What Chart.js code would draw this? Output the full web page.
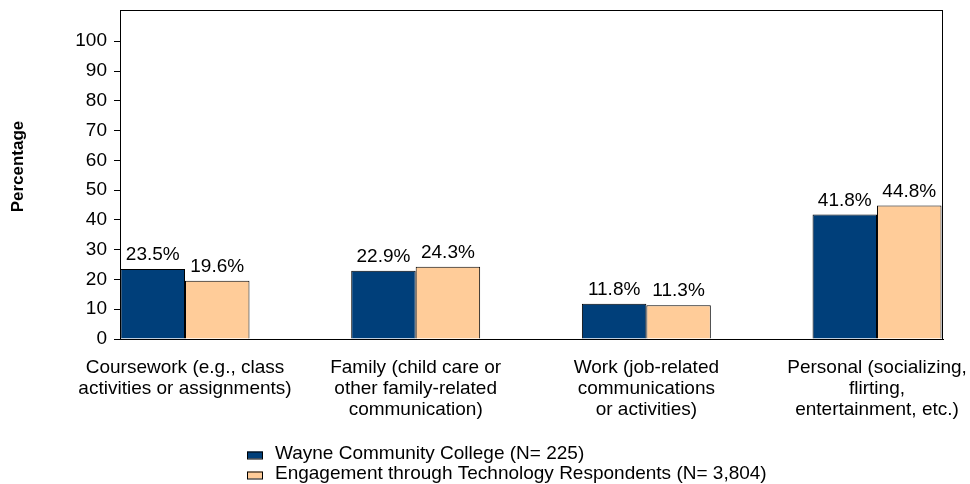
<!DOCTYPE html>
<html lang="en">
<head>
    <meta charset="UTF-8">
    <title>Technology use by purpose</title>
    <script src="https://cdn.jsdelivr.net/npm/chart.js"></script>
    <style>
        body { margin: 0; background: #fff; }
    </style>
</head>
<body>
    <canvas id="purposeChart" width="970" height="484"></canvas>

    <script>
        // Category labels (one array of lines per category)
        const categories = [
            ['Coursework (e.g., class', 'activities or assignments)'],
            ['Family (child care or', 'other family-related', 'communication)'],
            ['Work (job-related', 'communications', 'or activities)'],
            ['Personal (socializing,', 'flirting,', 'entertainment, etc.)']
        ];
        const seriesNames = [
            'Wayne Community College (N= 225)',
            'Engagement through Technology Respondents (N= 3,804)'
        ];
        const wayneValues = [23.5, 22.9, 11.8, 41.8];
        const ettValues = [19.6, 24.3, 11.3, 44.8];
        const yTicks = [0, 10, 20, 30, 40, 50, 60, 70, 80, 90, 100];
        const yTitle = 'Percentage';

        const FONT = '"Liberation Sans", Arial, sans-serif';

        // box round the plot area
        const framePlugin = {
            id: 'frame',
            beforeDatasetsDraw(chart) {
                const a = chart.chartArea;
                const ctx = chart.ctx;
                ctx.save();
                ctx.strokeStyle = '#000';
                ctx.lineWidth = 1;
                ctx.strokeRect(a.left + 0.5, a.top + 0.5, a.right - a.left - 1, a.bottom - a.top);
                ctx.restore();
            }
        };

        // y axis title, sits a bit above the middle of the plot like the original
        const yTitlePlugin = {
            id: 'yTitle',
            afterDraw(chart) {
                const ctx = chart.ctx;
                const a = chart.chartArea;
                ctx.save();
                ctx.translate(18.5, (a.top + a.bottom) / 2 - 8);
                ctx.rotate(-Math.PI / 2);
                ctx.font = 'bold 17px ' + FONT;
                ctx.fillStyle = '#000';
                ctx.textAlign = 'center';
                ctx.textBaseline = 'middle';
                ctx.fillText(yTitle, 0, 0);
                ctx.restore();
            }
        };

        // percentage labels above the bars
        const valueLabels = {
            id: 'valueLabels',
            afterDatasetsDraw(chart) {
                const ctx = chart.ctx;
                ctx.save();
                ctx.font = '19px ' + FONT;
                ctx.fillStyle = '#000';
                ctx.textAlign = 'center';
                ctx.textBaseline = 'alphabetic';
                chart.data.datasets.forEach((ds, i) => {
                    chart.getDatasetMeta(i).data.forEach((bar, j) => {
                        ctx.fillText(ds.data[j].y.toFixed(1) + '%', bar.x, bar.y - 9);
                    });
                });
                ctx.restore();
            }
        };

        // legend stacked in two rows under the chart
        const stackedLegend = {
            id: 'stackedLegend',
            afterDraw(chart) {
                const ctx = chart.ctx;
                const x = chart.chartArea.left + 127;
                ctx.save();
                ctx.font = '19px ' + FONT;
                ctx.textBaseline = 'alphabetic';
                ctx.textAlign = 'left';
                chart.data.datasets.forEach((ds, i) => {
                    const base = chart.chartArea.bottom + 119.5 + i * 20;
                    ctx.fillStyle = ds.backgroundColor;
                    ctx.fillRect(x, base - 7, 16, 7);
                    ctx.strokeStyle = '#000';
                    ctx.lineWidth = 1;
                    ctx.strokeRect(x + 0.5, base - 6.5, 15, 7);
                    ctx.fillStyle = '#000';
                    ctx.fillText(ds.label, x + 28, base);
                });
                ctx.restore();
            }
        };

        const toPoints = (vals) => vals.map((v, i) => ({ x: i, y: v }));

        new Chart(document.getElementById('purposeChart'), {
            type: 'bar',
            data: {
                datasets: [
                    {
                        label: seriesNames[0],
                        data: toPoints(wayneValues),
                        backgroundColor: '#003f7a',
                        borderColor: '#000',
                        borderWidth: 1,
                        categoryPercentage: 0.559,
                        barPercentage: 1
                    },
                    {
                        label: seriesNames[1],
                        data: toPoints(ettValues),
                        backgroundColor: '#ffcc99',
                        borderColor: '#000',
                        borderWidth: 1,
                        categoryPercentage: 0.559,
                        barPercentage: 1
                    }
                ]
            },
            options: {
                responsive: false,
                animation: false,
                layout: { padding: { top: 10, right: 27, bottom: 50, left: 0 } },
                plugins: {
                    legend: { display: false },
                    tooltip: { enabled: false }
                },
                scales: {
                    x: {
                        type: 'linear',
                        offset: false,
                        min: -0.2818,
                        max: 3.286,
                        afterFit: (s) => {
                            s.height = 95;
                            s.paddingLeft = 0;
                            s.paddingRight = 0;
                        },
                        afterBuildTicks: (s) => {
                            s.ticks = categories.map((c, i) => ({ value: i }));
                        },
                        grid: { display: false, drawTicks: false, offset: false },
                        border: { display: true, color: '#000', width: 1 },
                        ticks: {
                            color: '#000',
                            font: { family: FONT, size: 19, lineHeight: 1.08 },
                            padding: 19,
                            maxRotation: 0,
                            autoSkip: false,
                            callback: (v) => categories[v] || ''
                        }
                    },
                    y: {
                        min: 0,
                        max: 110.5,
                        afterFit: (s) => {
                            s.width = 120;
                            s.paddingTop = 0;
                            s.paddingBottom = 0;
                        },
                        afterBuildTicks: (s) => {
                            s.ticks = yTicks.map(v => ({ value: v }));
                        },
                        grid: {
                            drawOnChartArea: false,
                            color: '#000',
                            tickLength: 6
                        },
                        border: { display: true, color: '#000', width: 1 },
                        ticks: {
                            color: '#000',
                            font: { family: FONT, size: 19 },
                            padding: 7
                        }
                    }
                }
            },
            plugins: [framePlugin, valueLabels, stackedLegend, yTitlePlugin]
        });
    </script>
</body>
</html>
